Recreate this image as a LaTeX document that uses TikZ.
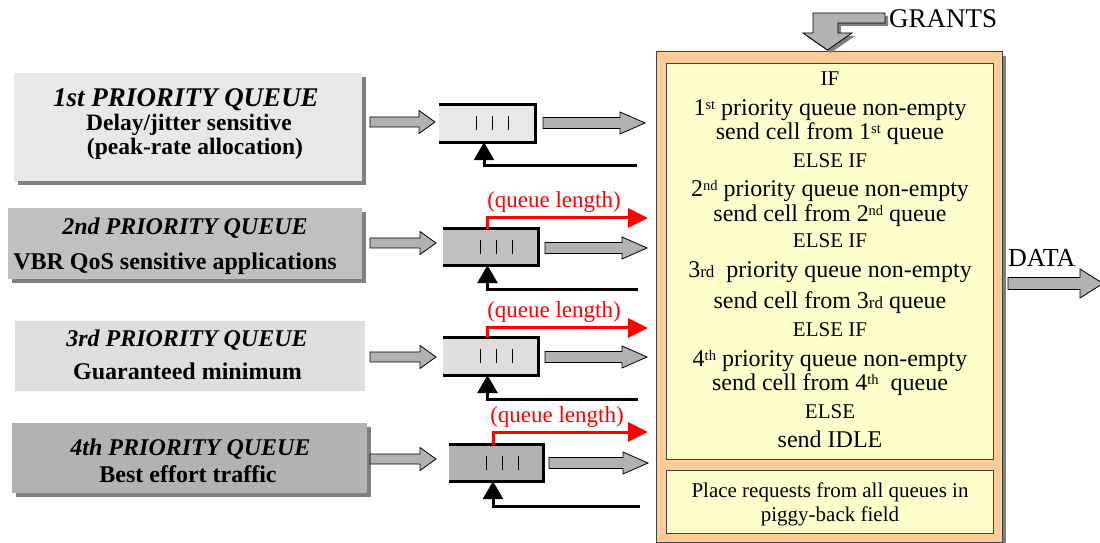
\documentclass[tikz,border=0pt]{standalone}
\usepackage{fontspec}
\setmainfont{Liberation Serif}
\usetikzlibrary{calc,arrows.meta,shadows}
\definecolor{lgA}{HTML}{E8E8E8}
\definecolor{lgB}{HTML}{C0C0C0}
\definecolor{lgC}{HTML}{DEDEDE}
\definecolor{lgD}{HTML}{B2B2B2}
\definecolor{arrgray}{HTML}{B2B2B2}
\definecolor{shadowgray}{HTML}{808080}
\definecolor{orangebg}{HTML}{FFCC99}
\definecolor{yellowbg}{HTML}{FFFFCC}
\definecolor{darkline}{HTML}{404040}
\newcommand\fsz[1]{\fontsize{#1bp}{#1bp}\selectfont}
\newcommand\supx[1]{\raisebox{6bp}{\fsz{14.5}#1}}
\newcommand\fatarrow[6][fatarr]{%
  \draw[#1] let \p1=(#2), \p2=(#3) in
   (\x1,{\y1+#4bp}) -- ({\x2-#6bp},{\y1+#4bp}) -- ({\x2-#6bp},{\y1+#5bp}) -- (\x2,\y1)
   -- ({\x2-#6bp},{\y1-#5bp}) -- ({\x2-#6bp},{\y1-#4bp}) -- (\x1,{\y1-#4bp}) -- cycle;}
\begin{document}
\begin{tikzpicture}[x=1bp,y=-1bp,line join=miter,
  pbox/.style={rectangle,inner sep=0pt},
  pshadow/.style={drop shadow={shadow xshift=4bp,shadow yshift=-4bp,fill=shadowgray,opacity=1}},
  ttl/.style={anchor=base,inner sep=0pt,font=\fsz{24}\bfseries\itshape},
  subt/.style={anchor=base,inner sep=0pt,font=\fsz{24}\bfseries},
  qbox/.style={rectangle,inner sep=0pt},
  qedge/.style={line width=3.3bp},
  bar/.style={line width=1.3bp},
  fatarr/.style={draw=black,line width=0.8bp,fill=arrgray},
  fatshadow/.style={fill=shadowgray,draw=none,xshift=3bp,yshift=-3bp},
  fb/.style={line width=3bp,-{Triangle[length=18bp,width=20bp]}},
  ql/.style={draw=red,line width=3bp,-{Triangle[length=20bp,width=19bp]},red},
  qlabel/.style={anchor=base,inner sep=0pt,text=red,font=\fsz{23}},
  rule/.style={anchor=base,inner sep=0pt,font=\fsz{24},text height=0.72em,text depth=0.12em},
  kw/.style={anchor=base,inner sep=0pt,font=\fsz{21}},
  panel/.style={rectangle,inner sep=0pt,fill=yellowbg,draw=darkline,line width=0.8bp}
]
\useasboundingbox (0,0) rectangle (1100,543);
\clip (0,0) rectangle (1100,543);

% left priority boxes
\node[pbox,fill=lgA,pshadow,minimum width=348bp,minimum height=108bp] (p1) at (188,127) {};
\node[pbox,fill=lgB,pshadow,minimum width=354bp,minimum height=71bp] (p2) at (185,243.5) {};
\node[pbox,fill=lgC,minimum width=350bp,minimum height=70bp] (p3) at (190,356) {};
\node[pbox,fill=lgD,pshadow,minimum width=355bp,minimum height=70bp] (p4) at (189.5,458) {};

\node[ttl,font=\fsz{27}\bfseries\itshape] (p1t) at (186,107) {1st PRIORITY QUEUE};
\node[subt,font=\fsz{23.5}\bfseries] (p1s) at (189,131) {Delay/jitter sensitive};
\node[subt,font=\fsz{23.5}\bfseries] (p1u) at (195,155) {(peak-rate allocation)};
\node[ttl] (p2t) at (185,235) {2nd PRIORITY QUEUE};
\node[subt] (p2s) at (175,270) {VBR QoS sensitive applications};
\node[ttl] (p3t) at (187,347) {3rd PRIORITY QUEUE};
\node[subt] (p3s) at (187.5,380) {Guaranteed minimum};
\node[ttl] (p4t) at (190.5,455) {4th PRIORITY QUEUE};
\node[subt] (p4s) at (188,482) {Best effort traffic};

% queue boxes
\node[qbox,fill=lgA,minimum width=96bp,minimum height=37bp] (q1) at (487,123.5) {};
\node[qbox,fill=lgB,minimum width=95bp,minimum height=36bp] (q2) at (490.5,247) {};
\node[qbox,fill=lgC,minimum width=95bp,minimum height=37bp] (q3) at (490.5,356.5) {};
\node[qbox,fill=lgD,minimum width=94bp,minimum height=36bp] (q4) at (496,463) {};
\foreach \q in {q1,q2,q3,q4}{
  \draw[qedge] (\q.north west) -- (\q.north east) -- (\q.south east) -- (\q.south west);
  \foreach \d in {37.5,53.5,69.5}
    \draw[bar] ($(\q.west)+(\d,-7)$) -- ($(\q.west)+(\d,7)$);
}

% input / output fat arrows
\coordinate (i1s) at (370,122); \coordinate (i1e) at (435,122);
\coordinate (i2s) at (370,243); \coordinate (i2e) at (436,243);
\coordinate (i3s) at (370,357); \coordinate (i3e) at (436,357);
\coordinate (i4s) at (370,459); \coordinate (i4e) at (436,459);
\coordinate (o1s) at (543,123); \coordinate (o1e) at (645,123);
\coordinate (o2s) at (545,248); \coordinate (o2e) at (647,248);
\coordinate (o3s) at (545,357); \coordinate (o3e) at (647,357);
\coordinate (o4s) at (549,463); \coordinate (o4e) at (648,463);
\foreach \r in {1,2,3,4}{
  \fatarrow{i\r s}{i\r e}{5}{11.5}{16}
  \fatarrow{o\r s}{o\r e}{5.5}{11}{25}
}

% feedback (grant) lines
\coordinate (f1) at (637,166);
\coordinate (f2) at (638,290);
\coordinate (f3) at (638,399);
\coordinate (f4) at (640,506);
\foreach \r in {1,2,3,4}
  \draw[fb] (f\r) -| ($(q\r.south)+(-3,0)$);

% queue length requests
\coordinate (r2) at (648,218);
\coordinate (r3) at (648,328);
\coordinate (r4) at (648,432);
\foreach \r in {2,3,4}
  \draw[ql] ($(q\r.north)+(-3,0)$) |- (r\r);
\node[qlabel] (l2) at (554,208) {(queue length)};
\node[qlabel] (l3) at (554,318) {(queue length)};
\node[qlabel] (l4) at (557,422) {(queue length)};

% scheduler box
\fill[shadowgray] (660,56) rectangle (1006,548);
\node[rectangle,inner sep=0pt,fill=orangebg,draw=darkline,line width=1bp,minimum width=346bp,minimum height=490bp] (sch) at (829,297) {};
\node[panel,minimum width=327bp,minimum height=396bp] (rules) at (829.5,261) {};
\node[panel,minimum width=327bp,minimum height=63bp] (piggy) at (829.5,501.5) {};

\node[kw] (t1) at (830,86) {IF};
\node[rule] (t2) at (830,116) {1\supx{st} priority queue non-empty};
\node[rule] (t3) at (830,140) {send cell from 1\supx{st} queue};
\node[kw] (t4) at (830,168) {ELSE IF};
\node[rule] (t5) at (830,197) {2\supx{nd} priority queue non-empty};
\node[rule] (t6) at (830,222) {send cell from 2\supx{nd} queue};
\node[kw] (t7) at (830,248) {ELSE IF};
\node[rule] (t8) at (830,278) {3{\fsz{17}rd}\ \ priority queue non-empty};
\node[rule] (t9) at (830,309) {send cell from 3{\fsz{17}rd} queue};
\node[kw] (t10) at (830,337) {ELSE IF};
\node[rule] (t11) at (830,367) {4\supx{th} priority queue non-empty};
\node[rule] (t12) at (830,390) {send cell from 4\supx{th}\ \ queue};
\node[kw] (t13) at (830,418) {ELSE};
\node[rule] (t14) at (830,447) {send IDLE};
\node[kw] (t15) at (830,497) {Place requests from all queues in};
\node[kw] (t16) at (830,521) {piggy-back field};

% GRANTS
\node[anchor=base west,inner sep=0pt,font=\fsz{27}] (gr) at (889,28) {GRANTS};
\fill[shadowgray,xshift=3bp,yshift=-3bp] (813,13) -- (885,13) -- (885,23) -- (838,23) -- (838,33) -- (852,33) -- (827.5,50) -- (803,33) -- (813,33) -- cycle;
\draw[fatarr] (813,13) -- (885,13) -- (885,23) -- (838,23) -- (838,33) -- (852,33) -- (827.5,50) -- (803,33) -- (813,33) -- cycle;

% DATA
\node[anchor=base west,inner sep=0pt,font=\fsz{26}] (dt) at (1008,267) {DATA};
\coordinate (ds) at (1008,283.5);
\coordinate (de) at (1103,283.5);
\fatarrow[fatshadow]{ds}{de}{6}{14.5}{23}
\fatarrow{ds}{de}{6}{14.5}{23}
\end{tikzpicture}
\end{document}
